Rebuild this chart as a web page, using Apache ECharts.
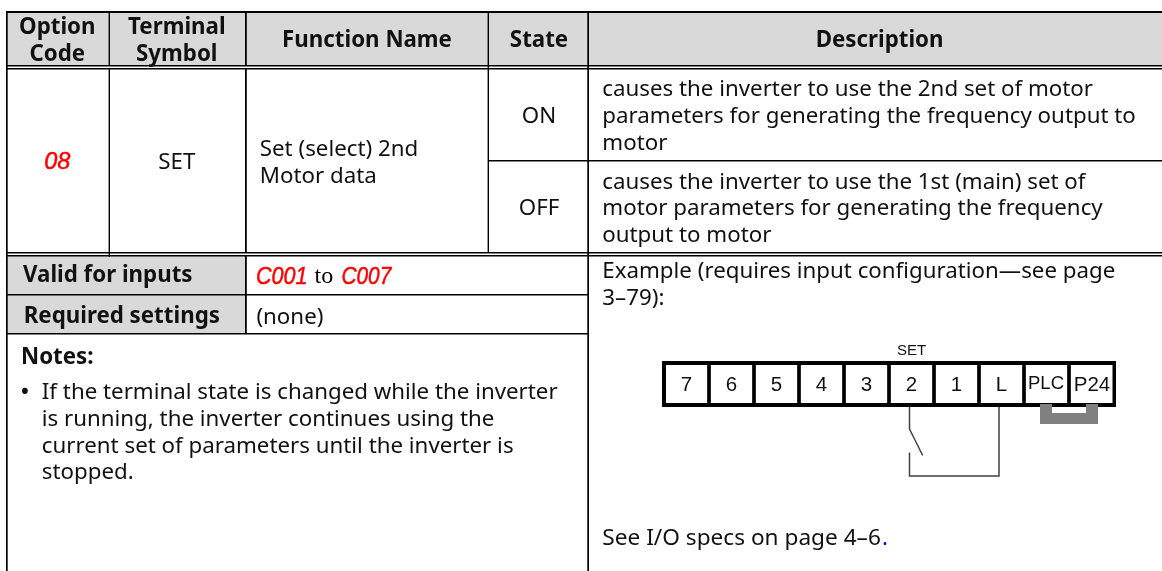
<!DOCTYPE html>
<html><head><meta charset="utf-8">
<style>html,body{margin:0;padding:0;background:#fff}#c{width:1162px;height:571px}</style>
<script src="https://cdn.jsdelivr.net/npm/echarts@6/dist/echarts.min.js"></script>
</head><body><div id="c"></div>
<script>
// ---- content ----
var headerCells = ['Function Name', 'State', 'Description'];
var headerOption = ['Option', 'Code'];
var headerTerminal = ['Terminal', 'Symbol'];
var optionCode = '08';
var terminalSymbol = 'SET';
var functionName = ['Set (select) 2nd', 'Motor data'];
var states = ['ON', 'OFF'];
var descOn = ['causes the inverter to use the 2nd set of motor', 'parameters for generating the frequency output to', 'motor'];
var descOff = ['causes the inverter to use the 1st (main) set of', 'motor parameters for generating the frequency', 'output to motor'];
var validLabel = 'Valid for inputs';
var validFrom = 'C001', validTo = 'C007', validJoin = 'to';
var requiredLabel = 'Required settings';
var requiredValue = '(none)';
var notesLabel = 'Notes:';
var notes = ['If the terminal state is changed while the inverter', 'is running, the inverter continues using the', 'current set of parameters until the inverter is', 'stopped.'];
var example = ['Example (requires input configuration\u2014see page', '3\u201379):'];
var seeAlso = 'See I/O specs on page 4\u20136';
var seeDot = '.';
var terminals = ['7', '6', '5', '4', '3', '2', '1', 'L', 'PLC', 'P24'];
var terminalTag = 'SET';

// ---- drawing primitives, resolved through the chart's own axes ----
var SANS = '"Noto Sans", sans-serif', ARIAL = '"Liberation Sans", Arial, sans-serif';
var BODY = 22.3, SANS_DY = 1.3;
var INK = '#000', BAND = '#d9d9d9', RED = '#ff0000', JUMPER = '#808080', WIRE = '#404040';
var prims = [];
function R(x0, y0, x1, y1, c) { prims.push({k: 'r', x0: x0, y0: y0, x1: x1, y1: y1, c: c}); }
function L(pts, c, w) { prims.push({k: 'l', pts: pts, c: c, w: w}); }
function T(s, x, y, o) { o = o || {}; var fam = o.fam || SANS; prims.push({k: 't', s: s, x: x, y: y + (fam === SANS ? SANS_DY : 0),
  a: o.a || 'left', size: o.size || BODY, bold: !!o.bold, fam: fam, c: o.c || '#111', it: !!o.it, sx: o.sx || 1, seg: !!o.seg}); }

// gray bands
R(7, 12, 1162, 66, BAND);
R(7, 256, 245, 334, BAND);
// horizontal rules
R(6, 11, 1162, 13, INK);
R(6, 65, 1162, 66.5, INK);
R(6, 68, 1162, 69.5, INK);
R(488, 160, 1162, 161.5, INK);
R(6, 252, 1162, 253.5, INK);
R(6, 255, 1162, 256.5, INK);
R(6, 294, 588.5, 295.5, INK);
R(6, 333, 588.5, 334.5, INK);
// vertical rules
R(6, 11, 7.7, 571, INK);
R(108.6, 11, 110, 66, INK);
R(108.6, 68, 110, 257, INK);
R(245, 11, 246.8, 66, INK);
R(245, 68, 246.8, 253, INK);
R(245, 255, 246.8, 334, INK);
R(487.6, 11, 489, 253, INK);
R(587.3, 11, 589, 571, INK);

// header text
T(headerOption[0], 57.3, 26, {a: 'center', bold: 1});
T(headerOption[1], 57.3, 53, {a: 'center', bold: 1});
T(headerTerminal[0], 176.8, 26, {a: 'center', bold: 1});
T(headerTerminal[1], 176.8, 53, {a: 'center', bold: 1});
T(headerCells[0], 367, 39.5, {a: 'center', bold: 1});
T(headerCells[1], 539, 39.5, {a: 'center', bold: 1});
T(headerCells[2], 879.6, 39.5, {a: 'center', bold: 1});
// main row
var SEG = ARIAL;
T(optionCode, 57.3, 162.8, {a: 'center', size: 23.5, fam: SEG, c: RED, it: 1, seg: 1});
T(terminalSymbol, 176.8, 161, {a: 'center'});
T(functionName[0], 259.8, 148);
T(functionName[1], 259.8, 175);
T(states[0], 539, 115, {a: 'center'});
T(states[1], 539, 207, {a: 'center'});
descOn.forEach(function (s, i) { T(s, 602.3, 88.5 + i * 27); });
descOff.forEach(function (s, i) { T(s, 602.3, 181 + i * 26.7); });
// lower left
T(validLabel, 23, 274.5, {bold: 1});
T(validFrom, 256, 276.7, {size: 24.5, fam: SEG, c: RED, it: 1, sx: 0.88, seg: 1});
T(validJoin, 314.5, 277, {size: 24, fam: '"Liberation Serif", serif', c: '#000'});
T(validTo, 341.5, 276.7, {size: 24.5, fam: SEG, c: RED, it: 1, sx: 0.85, seg: 1});
T(requiredLabel, 23.7, 315, {bold: 1});
T(requiredValue, 256.4, 316);
T(notesLabel, 21, 356, {bold: 1});
T('\u2022', 25, 391.5, {a: 'center', size: 26});
notes.forEach(function (s, i) { T(s, 41.8, 391.5 + i * 26.7); });
// lower right
T(example[0], 602.3, 270.5);
T(example[1], 602.3, 297);
T(seeAlso, 602.3, 537, {sx: 1.015});
T(seeDot, 882, 537, {c: '#0000ff'});

// terminal strip
var stripL = 662, stripT = 361, stripB = 407, pitch = 45, bar = 3.7;
R(stripL, stripT, 1116, stripT + 4, INK);
R(stripL, stripB - 4, 1116, stripB, INK);
R(stripL, stripT, stripL + 4, stripB, INK);
R(1112.5, stripT, 1116, stripB, INK);
terminals.forEach(function (t, i) {
  var cx = 686.5 + i * pitch;
  if (i > 0) R(cx - pitch / 2 - bar / 2, stripT, cx - pitch / 2 + bar / 2, stripB, INK);
  var small = t.length > 1;
  T(t, cx + (i === 8 ? -0.5 : i === 9 ? 0.5 : 0), i === 8 ? 384 : 385.5, {a: 'center', size: small ? (i === 8 ? 18.5 : 20.5) : 20.5, fam: ARIAL, c: '#111'});
});
T(terminalTag, 911.7, 350.5, {a: 'center', size: 15, fam: ARIAL, c: '#111'});
// jumper
R(1040, 404, 1052, 424, JUMPER);
R(1086, 404, 1098, 424, JUMPER);
R(1052, 413, 1086, 424, JUMPER);
// wires
L([[909.5, 407], [909.5, 429]], WIRE, 1.5);
L([[909.5, 429], [922.7, 455.5]], WIRE, 1.5);
L([[909.5, 452.5], [909.5, 476], [999, 476], [999, 407]], WIRE, 1.5);

var chart = echarts.init(document.getElementById('c'), null, {renderer: 'canvas'});
chart.setOption({
  animation: false,
  backgroundColor: '#fff',
  grid: {left: 0, top: 0, right: 0, bottom: 0},
  xAxis: {type: 'value', min: 0, max: 1162, show: false},
  yAxis: {type: 'value', min: 0, max: 571, inverse: true, show: false},
  tooltip: {show: false},
  series: [{
    type: 'custom', coordinateSystem: 'cartesian2d', silent: true, clip: false,
    encode: {x: 0, y: 1},
    data: prims.map(function (p, i) { return [0, 0, i]; }),
    renderItem: function (params, api) {
      var p = prims[api.value(2)];
      if (p.k === 'r') {
        var a = api.coord([p.x0, p.y0]), b = api.coord([p.x1, p.y1]);
        return {type: 'rect', shape: {x: a[0], y: a[1], width: b[0] - a[0], height: b[1] - a[1]}, style: {fill: p.c}};
      }
      if (p.k === 'l') {
        return {type: 'polyline', shape: {points: p.pts.map(function (q) { return api.coord(q); })},
          style: {stroke: p.c, lineWidth: p.w, fill: 'none'}};
      }
      var c = api.coord([p.x, p.y]);
      var st = {text: p.s, x: 0, y: 0, align: p.a, verticalAlign: 'middle', fill: p.c,
        font: (p.it ? 'italic ' : '') + (p.bold ? 'bold ' : '') + p.size + 'px ' + p.fam};
      if (p.seg) { st.stroke = p.c; st.lineWidth = 0.5; }
      return {type: 'text', x: c[0], y: c[1], scaleX: p.sx, style: st};
    }
  }]
});
</script></body></html>
